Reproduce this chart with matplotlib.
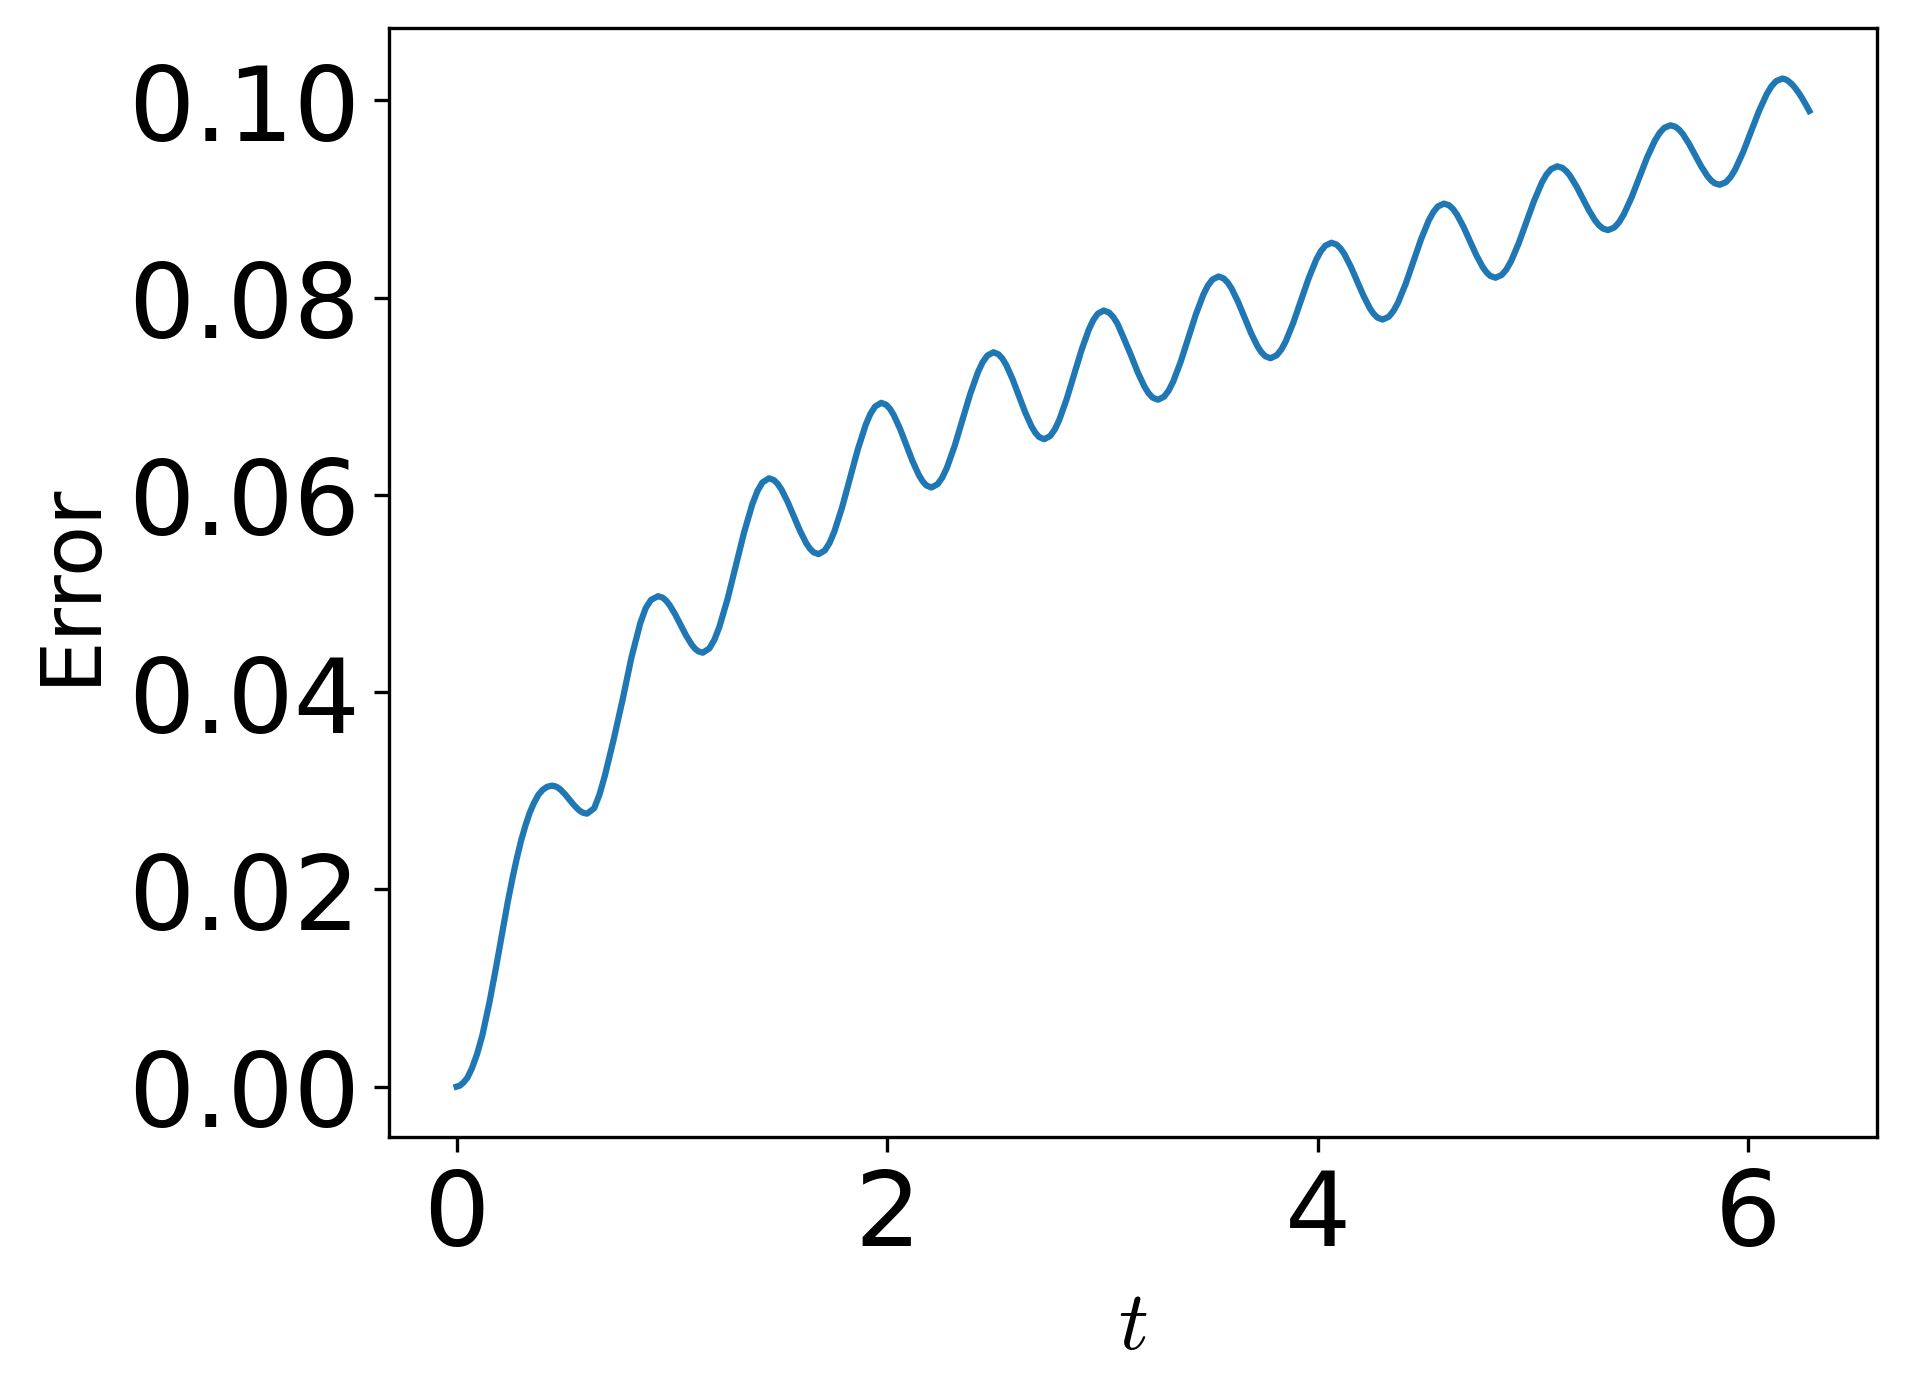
import matplotlib
matplotlib.use('Agg')
import matplotlib.pyplot as plt

# values, one row per half-swing
t_vals = [0.0, 0.015, 0.031, 0.05, 0.0701, 0.095, 0.1195, 0.152, 0.1815, 0.2095,
          0.2373, 0.26, 0.28, 0.30, 0.32, 0.34, 0.36, 0.38, 0.40, 0.42,
          0.4427, 0.4590, 0.4712, 0.4835, 0.5038, 0.5242, 0.5446, 0.5650, 0.5772, 0.5894,
          0.6057, 0.6387, 0.6634, 0.6882, 0.7294, 0.7706, 0.8118, 0.8531, 0.8778, 0.9025,
          0.9355, 0.9563, 0.9718, 0.9874, 1.0134, 1.0393, 1.0653, 1.0912, 1.1068, 1.1223,
          1.1431, 1.1739, 1.1970, 1.2201, 1.2586, 1.2971, 1.3356, 1.3741, 1.3972, 1.4203,
          1.4511, 1.4741, 1.4913, 1.5086, 1.5373, 1.5661, 1.5948, 1.6235, 1.6408, 1.6580,
          1.6810, 1.7102, 1.7320, 1.7539, 1.7904, 1.8269, 1.8633, 1.8998, 1.9217, 1.9435,
          1.9727, 1.9960, 2.0134, 2.0309, 2.0600, 2.0891, 2.1181, 2.1472, 2.1647, 2.1821,
          2.2054, 2.2343, 2.2559, 2.2775, 2.3136, 2.3497, 2.3857, 2.4218, 2.4434, 2.4651,
          2.4939, 2.5174, 2.5351, 2.5528, 2.5822, 2.6116, 2.6410, 2.6705, 2.6881, 2.7058,
          2.7293, 2.7570, 2.7778, 2.7985, 2.8331, 2.8678, 2.9024, 2.9370, 2.9577, 2.9785,
          3.0062, 3.0314, 3.0503, 3.0692, 3.0986, 3.1321, 3.1636, 3.1951, 3.2139, 3.2328,
          3.2580, 3.2861, 3.3072, 3.3283, 3.3634, 3.3985, 3.4336, 3.4688, 3.4898, 3.5109,
          3.5390, 3.5632, 3.5813, 3.5994, 3.6296, 3.6598, 3.6899, 3.7201, 3.7382, 3.7564,
          3.7805, 3.8088, 3.8301, 3.8513, 3.8867, 3.9222, 3.9576, 3.9930, 4.0142, 4.0355,
          4.0638, 4.0876, 4.1054, 4.1233, 4.1530, 4.1828, 4.2125, 4.2422, 4.2601, 4.2779,
          4.3017, 4.3302, 4.3515, 4.3729, 4.4085, 4.4441, 4.4796, 4.5152, 4.5366, 4.5579,
          4.5864, 4.6103, 4.6283, 4.6462, 4.6761, 4.7060, 4.7359, 4.7658, 4.7837, 4.8017,
          4.8256, 4.8543, 4.8758, 4.8974, 4.9332, 4.9691, 5.0050, 5.0409, 5.0624, 5.0839,
          5.1126, 5.1362, 5.1538, 5.1715, 5.2009, 5.2304, 5.2598, 5.2892, 5.3069, 5.3246,
          5.3481, 5.3771, 5.3989, 5.4207, 5.4570, 5.4933, 5.5295, 5.5658, 5.5876, 5.6094,
          5.6384, 5.6613, 5.6784, 5.6956, 5.7241, 5.7527, 5.7813, 5.8099, 5.8270, 5.8441,
          5.8670, 5.8961, 5.9180, 5.9398, 5.9762, 6.0126, 6.0490, 6.0854, 6.1072, 6.1291,
          6.1582, 6.1700, 6.1822, 6.2000, 6.2170, 6.2350, 6.2500, 6.2665, 6.2832]

err_vals = [0.0, 0.0001, 0.0004, 0.0009, 0.0018, 0.0033, 0.0052, 0.0085, 0.0119, 0.0153,
            0.0187, 0.0212, 0.0232, 0.0250, 0.0265, 0.0278, 0.0288, 0.0296, 0.0301, 0.0304,
            0.03052, 0.03045, 0.03031, 0.03010, 0.02964, 0.02910, 0.02856, 0.02810, 0.02789, 0.02775,
            0.02768, 0.02822, 0.02960, 0.03150, 0.03520, 0.03920, 0.04350, 0.04700, 0.04850, 0.04935,
            0.04973, 0.04959, 0.04931, 0.04889, 0.04796, 0.04687, 0.04577, 0.04484, 0.04442, 0.04414,
            0.04400, 0.04443, 0.04530, 0.04659, 0.04946, 0.05285, 0.05623, 0.05910, 0.06039, 0.06126,
            0.06169, 0.06150, 0.06112, 0.06056, 0.05931, 0.05784, 0.05637, 0.05512, 0.05456, 0.05418,
            0.05399, 0.05437, 0.05512, 0.05624, 0.05873, 0.06167, 0.06460, 0.06709, 0.06821, 0.06896,
            0.06934, 0.06913, 0.06871, 0.06808, 0.06669, 0.06505, 0.06340, 0.06201, 0.06138, 0.06096,
            0.06075, 0.06109, 0.06176, 0.06276, 0.06499, 0.06761, 0.07024, 0.07246, 0.07346, 0.07413,
            0.07447, 0.07425, 0.07382, 0.07318, 0.07175, 0.07006, 0.06837, 0.06694, 0.06630, 0.06587,
            0.06565, 0.06597, 0.06661, 0.06756, 0.06968, 0.07218, 0.07467, 0.07679, 0.07774, 0.07838,
            0.07870, 0.07848, 0.07803, 0.07738, 0.07591, 0.07418, 0.07244, 0.07098, 0.07032, 0.06987,
            0.06965, 0.06996, 0.07057, 0.07148, 0.07351, 0.07590, 0.07829, 0.08032, 0.08123, 0.08184,
            0.08215, 0.08195, 0.08154, 0.08094, 0.07959, 0.07801, 0.07642, 0.07507, 0.07447, 0.07406,
            0.07386, 0.07415, 0.07472, 0.07557, 0.07748, 0.07972, 0.08196, 0.08386, 0.08471, 0.08528,
            0.08557, 0.08538, 0.08500, 0.08443, 0.08317, 0.08168, 0.08019, 0.07892, 0.07835, 0.07797,
            0.07778, 0.07807, 0.07865, 0.07950, 0.08141, 0.08366, 0.08591, 0.08782, 0.08867, 0.08925,
            0.08954, 0.08936, 0.08899, 0.08844, 0.08722, 0.08578, 0.08434, 0.08312, 0.08257, 0.08220,
            0.08202, 0.08230, 0.08285, 0.08367, 0.08551, 0.08767, 0.08983, 0.09167, 0.09249, 0.09304,
            0.09332, 0.09316, 0.09284, 0.09237, 0.09132, 0.09009, 0.08885, 0.08780, 0.08733, 0.08701,
            0.08685, 0.08711, 0.08763, 0.08841, 0.09013, 0.09217, 0.09420, 0.09592, 0.09670, 0.09722,
            0.09748, 0.09733, 0.09704, 0.09660, 0.09562, 0.09447, 0.09331, 0.09233, 0.09189, 0.09160,
            0.09145, 0.09171, 0.09224, 0.09303, 0.09478, 0.09684, 0.09890, 0.10064, 0.10143, 0.10196,
            0.10222, 0.10216, 0.10202, 0.10170, 0.10128, 0.10074, 0.10022, 0.09960, 0.09893]

y_ticks = [0.00, 0.02, 0.04, 0.06, 0.08, 0.10]
x_ticks = [0, 2, 4, 6]

plt.rcParams['mathtext.fontset'] = 'cm'

fig = plt.figure(figsize=(6.353, 4.653), dpi=300)
ax = fig.add_axes([0.2041, 0.1848, 0.7807, 0.7944])
ax.plot(t_vals, err_vals, color='#1f77b4', linewidth=1.5)

ax.set_xticks(x_ticks)
ax.set_yticks(y_ticks)
ax.tick_params(labelsize=25)
ax.set_xlabel('$t$', fontsize=20)
ax.set_ylabel('Error', fontsize=20)

fig.savefig('out.png', dpi=300)
